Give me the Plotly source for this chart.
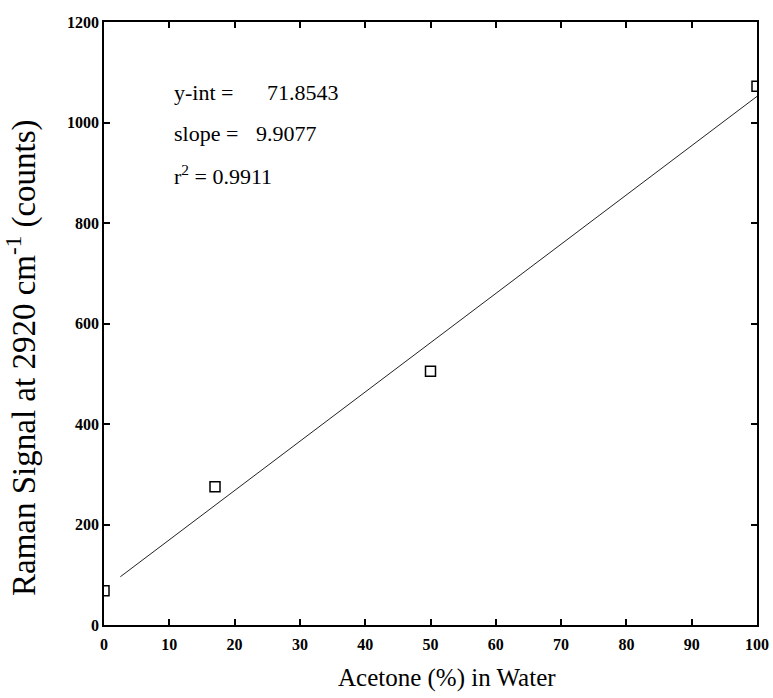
import plotly.graph_objects as go

# Data
acetone_pct = [0, 17, 50, 100]
raman_counts = [68, 275, 505, 1072]

fit_x = [2.5, 100]
fit_y = [96, 1052]

x_ticks = [0, 10, 20, 30, 40, 50, 60, 70, 80, 90, 100]
y_ticks = [0, 200, 400, 600, 800, 1000, 1200]

stat_names = ["y-int =", "slope =", "r<sup>2</sup> = 0.9911"]
stat_values = ["71.8543", "9.9077", ""]
stat_name_x = [10.4, 10.4, 10.4]
stat_value_x = [24.6, 22.9, 0]
stat_y = [1059, 979, 896]

serif = "Liberation Serif, Times New Roman, serif"

fig = go.Figure()
fig.add_trace(go.Scatter(x=fit_x, y=fit_y, mode="lines",
                         line=dict(color="#222222", width=1),
                         showlegend=False, hoverinfo="skip"))
fig.add_trace(go.Scatter(x=acetone_pct, y=raman_counts, mode="markers",
                         marker=dict(symbol="square-open", size=10,
                                     color="black", line=dict(width=1.5)),
                         showlegend=False, cliponaxis=True))

for nm, nx, val, vx, yy in zip(stat_names, stat_name_x, stat_values, stat_value_x, stat_y):
    fig.add_annotation(x=nx, y=yy, xref="x", yref="y", text=nm,
                       showarrow=False, xanchor="left", yanchor="middle",
                       font=dict(family=serif, size=22, color="black"))
    if val:
        fig.add_annotation(x=vx, y=yy, xref="x", yref="y", text=val,
                           showarrow=False, xanchor="left", yanchor="middle",
                           font=dict(family=serif, size=22, color="black"))

# axis titles placed as text annotations
fig.add_annotation(x=0.525, y=-0.088, xref="paper", yref="paper",
                   text="Acetone (%) in Water", showarrow=False,
                   xanchor="center", yanchor="middle",
                   font=dict(family=serif, size=25, color="black"))
fig.add_annotation(x=-0.126, y=0.444, xref="paper", yref="paper",
                   text="Raman Signal at 2920 cm<sup>-1</sup> (counts)",
                   showarrow=False, textangle=-90,
                   xanchor="center", yanchor="middle",
                   font=dict(family=serif, size=33, color="black"))

axis_common = dict(showgrid=False, zeroline=False, showline=True,
                   linecolor="black", linewidth=1.5, mirror="ticks",
                   ticks="inside", ticklen=6, tickwidth=1.5, tickcolor="black",
                   automargin=False, ticklabeloverflow="allow",
                   tickfont=dict(family=serif, size=16, color="black", weight="bold"))

fig.update_xaxes(range=[0, 100], tickvals=x_ticks, ticklabelstandoff=4, **axis_common)
fig.update_yaxes(range=[0, 1200], tickvals=y_ticks, **axis_common)

fig.update_layout(width=773, height=698,
                  margin=dict(l=104, r=16, t=22, b=73),
                  plot_bgcolor="white", paper_bgcolor="white")

# remove the page's default body margin so the figure fills the window
fig.write_html("out.html", config={"displayModeBar": False},
               post_script="document.body.style.margin='0';")
